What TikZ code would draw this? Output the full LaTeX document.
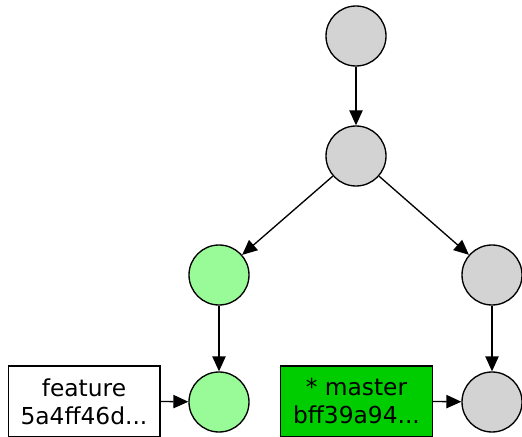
\documentclass[tikz,border=0pt]{standalone}
\usepackage{fontspec}
\setmainfont{DejaVu Sans}
\usetikzlibrary{arrows.meta}
\definecolor{cmtgray}{HTML}{D3D3D3}
\definecolor{cmtgreen}{HTML}{98FB98}
\definecolor{headgreen}{HTML}{00CD00}

\begin{document}
\begin{tikzpicture}[x=0.6pt, y=-0.6pt,
  commit/.style={circle, draw=black, line width=0.8pt, minimum size=36pt, inner sep=0pt},
  branchbox/.style={rectangle, draw=black, line width=0.8pt, minimum width=91pt,
    minimum height=42.5pt, align=center, inner sep=0pt,
    font=\fontsize{14}{16.8}\selectfont},
  link/.style={-{Triangle[length=9pt,width=8pt]}, line width=0.8pt}]
\useasboundingbox (0,0) rectangle (522,437);

% commits
\node[commit, fill=cmtgray] (c1) at (356,36) {};
\node[commit, fill=cmtgray] (c2) at (356,156) {};
\node[commit, fill=cmtgreen] (c3) at (219,275) {};
\node[commit, fill=cmtgray] (c4) at (492,275) {};
\node[commit, fill=cmtgreen] (c5) at (219,402) {};
\node[commit, fill=cmtgray] (c6) at (492,402) {};

% branch labels
\node[branchbox, fill=white] (feature) at (84,401.5) {feature\\5a4ff46d...};
\node[branchbox, fill=headgreen] (master) at (356.5,401.5) {* master\\bff39a94...};

% history
\draw[link] (c1) -- (c2);
\draw[link] (c2) -- (c3);
\draw[link] (c2) -- (c4);
\draw[link] (c3) -- (c5);
\draw[link] (c4) -- (c6);
\draw[link] (feature.east) -- (c5);
\draw[link] (master.east) -- (c6);
\end{tikzpicture}
\end{document}
